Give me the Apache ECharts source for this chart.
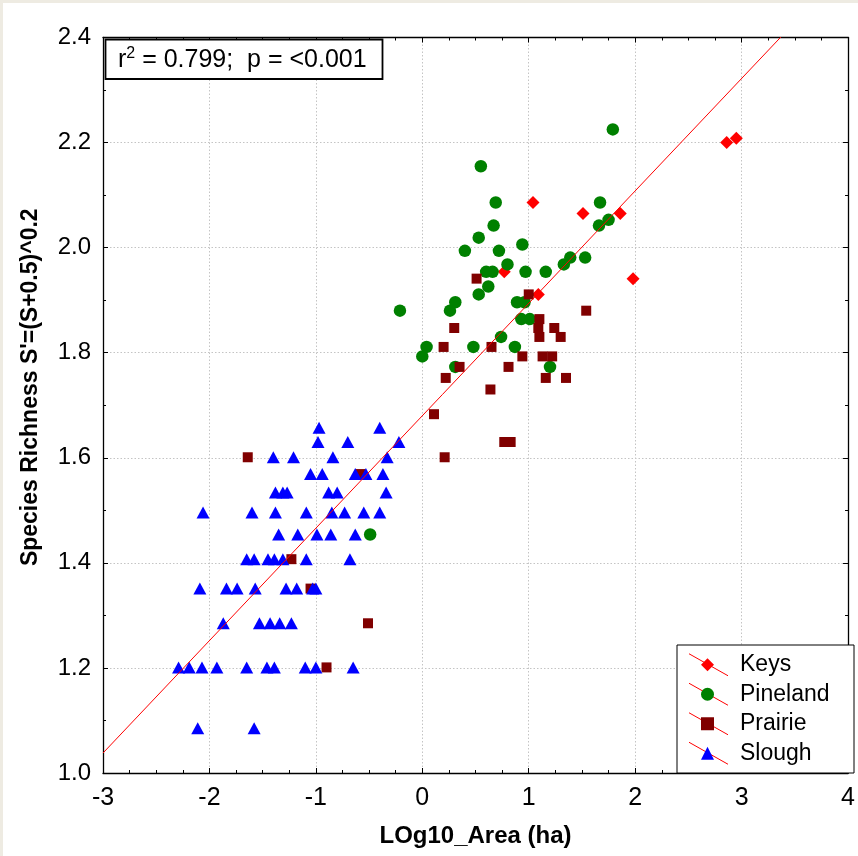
<!DOCTYPE html>
<html>
<head>
<meta charset="utf-8">
<script src="https://cdn.jsdelivr.net/npm/echarts@6/dist/echarts.min.js"></script>
<style>
  html, body { margin: 0; padding: 0; background: #ffffff; }
  #chart { width: 858px; height: 856px; }
</style>
</head>
<body>
<div id="chart"></div>
<script>
// points: [log10 area, S']
const keysPoints = [
  [1.04, 2.086], [1.51, 2.065], [1.86, 2.065], [1.98, 1.941], [0.77, 1.954],
  [1.09, 1.911], [2.86, 2.200], [2.95, 2.208]
];
const pinelandPoints = [
  [1.79, 2.225], [0.55, 2.155], [0.69, 2.086], [1.67, 2.086], [0.67, 2.042],
  [0.53, 2.019], [0.40, 1.994], [0.72, 1.994], [0.94, 2.006], [0.80, 1.968],
  [0.60, 1.954], [0.66, 1.954], [0.97, 1.954], [1.16, 1.954], [0.62, 1.926],
  [0.53, 1.911], [0.31, 1.896], [0.89, 1.896], [0.96, 1.896], [1.33, 1.968],
  [1.39, 1.981], [1.53, 1.981], [1.66, 2.042], [1.75, 2.053], [-0.21, 1.880],
  [0.04, 1.811], [0.00, 1.793], [0.26, 1.880], [0.93, 1.864], [1.01, 1.864],
  [0.48, 1.811], [0.74, 1.830], [0.87, 1.811], [0.31, 1.773], [1.20, 1.773],
  [-0.49, 1.454]
];
const prairiePoints = [
  [0.51, 1.941], [1.00, 1.911], [1.10, 1.864], [1.09, 1.847], [1.10, 1.830],
  [1.24, 1.847], [1.30, 1.830], [1.54, 1.880], [0.30, 1.847], [0.20, 1.811],
  [0.65, 1.811], [0.94, 1.793], [1.13, 1.793], [1.22, 1.793], [0.35, 1.773],
  [0.81, 1.773], [0.22, 1.752], [1.16, 1.752], [1.35, 1.752], [0.64, 1.730],
  [0.11, 1.683], [0.77, 1.630], [0.83, 1.630], [0.21, 1.601], [-1.64, 1.601],
  [-0.58, 1.569], [-1.23, 1.407], [-1.05, 1.351], [-0.51, 1.285], [-0.90, 1.201]
];
const sloughPoints = [
  [-0.97, 1.657], [-0.40, 1.657],
  [-0.98, 1.630], [-0.70, 1.630], [-0.22, 1.630],
  [-1.40, 1.601], [-1.21, 1.601], [-0.84, 1.601], [-0.33, 1.601],
  [-1.05, 1.569], [-0.94, 1.569], [-0.63, 1.569], [-0.53, 1.569], [-0.37, 1.569],
  [-1.38, 1.534], [-1.31, 1.534], [-1.27, 1.534], [-0.88, 1.534], [-0.80, 1.534], [-0.34, 1.534],
  [-2.06, 1.496], [-1.60, 1.496], [-1.38, 1.496], [-1.09, 1.496], [-0.85, 1.496],
  [-0.73, 1.496], [-0.55, 1.496], [-0.40, 1.496],
  [-1.35, 1.454], [-1.17, 1.454], [-0.99, 1.454], [-0.86, 1.454], [-0.63, 1.454],
  [-1.65, 1.407], [-1.58, 1.407], [-1.45, 1.407], [-1.39, 1.407], [-1.31, 1.407],
  [-1.09, 1.407], [-0.68, 1.407],
  [-2.09, 1.351], [-1.84, 1.351], [-1.74, 1.351], [-1.57, 1.351], [-1.28, 1.351],
  [-1.18, 1.351], [-1.03, 1.351], [-1.00, 1.351],
  [-1.87, 1.285], [-1.53, 1.285], [-1.43, 1.285], [-1.34, 1.285], [-1.23, 1.285],
  [-2.29, 1.201], [-2.19, 1.201], [-2.07, 1.201], [-1.93, 1.201], [-1.65, 1.201],
  [-1.46, 1.201], [-1.39, 1.201], [-1.10, 1.201], [-1.00, 1.201], [-0.65, 1.201],
  [-2.11, 1.085], [-1.58, 1.085]
];

// fitted line S' = a + b * x
const fitIntercept = 1.68;
const fitSlope = 0.214;
const xMin = -3, xMax = 4;
const yMin = 1.0, yMax = 2.4;

const seriesNames = ['Keys', 'Pineland', 'Prairie', 'Slough'];
const seriesColors = ['#ff0000', '#008000', '#800000', '#0000ff'];

const fitLine = [
  [xMin, fitIntercept + fitSlope * xMin],
  [xMax, fitIntercept + fitSlope * xMax]
];

const font = 'Liberation Sans, Arial, sans-serif';
const chart = echarts.init(document.getElementById('chart'), null, { renderer: 'canvas' });

function axisCommon(extra) {
  return Object.assign({
    type: 'value',
    axisLine: { show: true, onZero: false, lineStyle: { color: '#000', width: 1.3 } },
    axisTick: { show: true, inside: true, length: 5, lineStyle: { color: '#000' } },
    minorTick: { show: true, length: 3, lineStyle: { color: '#000' } }
  }, extra);
}

// legend geometry
const legendLeft = 701;
const legendTop = 650;
const legendStep = 29.5;

const legendLines = seriesNames.map((n, i) => {
  const cy = legendTop + legendStep / 2 + i * legendStep;
  return {
    type: 'line', z: 3,
    shape: { x1: 689, y1: cy - 11, x2: 728, y2: cy + 11 },
    style: { stroke: '#ff0000', lineWidth: 1 }
  };
});

const option = {
  animation: false,
  backgroundColor: '#ffffff',
  grid: { left: 103, right: 4, top: 37.5, bottom: 83, containLabel: false },
  xAxis: [
    axisCommon({
      min: xMin, max: xMax, interval: 1, position: 'bottom',
      minorTick: { show: true, splitNumber: 4, length: 3, lineStyle: { color: '#000' } },
      axisLabel: { color: '#000', fontFamily: font, fontSize: 25, margin: 13 },
      splitLine: { show: true, lineStyle: { color: '#c4c4c4', width: 1, type: [1.5, 2] } },
      name: 'LOg10_Area (ha)', nameLocation: 'middle', nameGap: 51,
      nameTextStyle: { color: '#000', fontFamily: font, fontSize: 24, fontWeight: 'bold' }
    }),
    axisCommon({
      min: xMin, max: xMax, interval: 1, position: 'top',
      minorTick: { show: true, splitNumber: 4, length: 3, lineStyle: { color: '#000' } },
      axisLabel: { show: false }, splitLine: { show: false }
    })
  ],
  yAxis: [
    axisCommon({
      min: yMin, max: yMax, interval: 0.2, position: 'left',
      minorTick: { show: true, splitNumber: 2, length: 3, lineStyle: { color: '#000' } },
      axisLabel: { color: '#000', fontFamily: font, fontSize: 24, margin: 12,
        formatter: v => v.toFixed(1) },
      splitLine: { show: true, lineStyle: { color: '#c4c4c4', width: 1, type: [1.5, 2] } },
      name: "Species Richness S'=(S+0.5)^0.2", nameLocation: 'middle', nameGap: 61,
      nameTextStyle: { color: '#000', fontFamily: font, fontSize: 23, fontWeight: 'bold',
        padding: [0, 0, 0, 36] }
    }),
    axisCommon({
      min: yMin, max: yMax, interval: 0.2, position: 'right',
      minorTick: { show: true, splitNumber: 2, length: 3, lineStyle: { color: '#000' } },
      axisLabel: { show: false }, splitLine: { show: false }
    })
  ],
  legend: {
    orient: 'vertical',
    left: legendLeft, top: legendTop,
    padding: 0,
    itemWidth: 13, itemHeight: 13, itemGap: 0,
    selectedMode: false,
    z: 4,
    data: seriesNames,
    textStyle: { color: '#000', fontFamily: font, fontSize: 23, lineHeight: legendStep,
      padding: [0, 0, 0, 21] }
  },
  graphic: {
    elements: [
      { type: 'rect', z: 10, shape: { x: 0, y: 0, width: 858, height: 3 }, style: { fill: '#eeebe2' } },
      { type: 'rect', z: 10, shape: { x: 0, y: 0, width: 3, height: 856 }, style: { fill: '#eeebe2' } },
      { type: 'rect', z: 3, shape: { x: 677, y: 645, width: 177, height: 128 },
        style: { fill: '#ffffff', stroke: '#000', lineWidth: 1 } },
      ...legendLines,
      { type: 'rect', z: 5, shape: { x: 105.5, y: 39.5, width: 277, height: 39.5 },
        style: { fill: '#ffffff', stroke: '#000', lineWidth: 1.8 } },
      { type: 'text', z: 6, x: 118, y: 60,
        style: {
          text: '{a|r}{s|2}{a| = 0.799;  p = <0.001}',
          verticalAlign: 'middle',
          rich: {
            a: { fontFamily: font, fontSize: 25, fill: '#000' },
            s: { fontFamily: font, fontSize: 16, fill: '#000', padding: [0, 0, 12, 0] }
          }
        }
      }
    ]
  },
  series: [
    { name: 'Keys', type: 'scatter', symbol: 'diamond', symbolSize: 13, z: 2,
      itemStyle: { color: seriesColors[0], opacity: 1 }, data: keysPoints },
    { name: 'Pineland', type: 'scatter', symbol: 'circle', symbolSize: 12.5, z: 2,
      itemStyle: { color: seriesColors[1], opacity: 1 }, data: pinelandPoints },
    { name: 'Prairie', type: 'scatter', symbol: 'rect', symbolSize: 10, z: 2,
      itemStyle: { color: seriesColors[2], opacity: 1 }, data: prairiePoints },
    { name: 'Slough', type: 'scatter', symbol: 'triangle', symbolSize: [13, 12], z: 2,
      itemStyle: { color: seriesColors[3], opacity: 1 }, data: sloughPoints },
    { name: 'fit', type: 'line', data: fitLine, showSymbol: false, symbol: 'none', clip: true,
      z: 3, silent: true,
      lineStyle: { color: '#ff0000', width: 1 } }
  ]
};

chart.setOption(option);
</script>
</body>
</html>
